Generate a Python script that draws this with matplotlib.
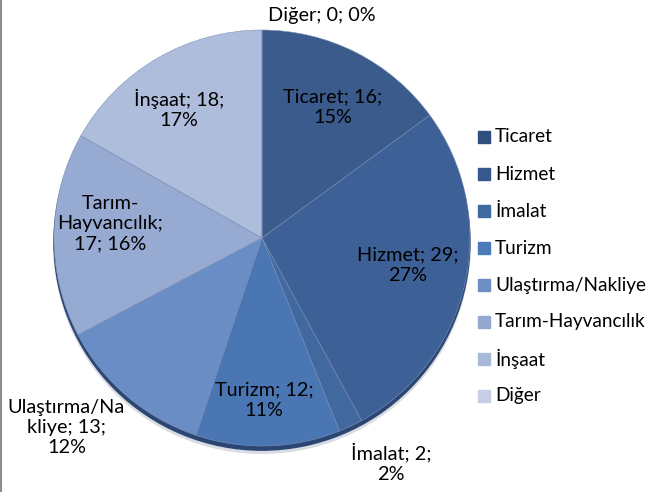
import matplotlib
matplotlib.use("Agg")
import matplotlib.pyplot as plt
from matplotlib.patches import Circle, Rectangle
from matplotlib.lines import Line2D


categories = ["Ticaret", "Hizmet", "İmalat", "Turizm", "Ulaştırma/Nakliye",
              "Tarım-Hayvancılık", "İnşaat", "Diğer"]
values = [16, 29, 2, 12, 13, 17, 18, 0]
percents = [15, 27, 2, 11, 12, 16, 17, 0]

# text of each data label, as Excel wrapped it
label_lines = [
    "Ticaret; 16;\n15%",
    "Hizmet; 29;\n27%",
    "İmalat; 2;\n2%",
    "Turizm; 12;\n11%",
    "Ulaştırma/Na\nkliye; 13;\n12%",
    "Tarım-\nHayvancılık;\n17; 16%",
    "İnşaat; 18;\n17%",
    "Diğer; 0; 0%",
]

slice_colors = ["#3B5B8C", "#3D6197", "#41699F", "#4A77B3",
                "#6B8DC6", "#97ABD2", "#AEBDDB", "#C6CFE5"]
legend_colors = ["#2F4F7F", "#36598C", "#3F6A9F", "#4A7ABA",
                 "#6D8FC6", "#93A7CF", "#A9B9DA", "#C6CFE5"]

# label centres in pie units (radius = 1)
label_pos = [(0.34, 0.63), (0.70, -0.13), (0.62, -1.08), (0.01, -0.78),
             (-0.94, -0.91), (-0.73, 0.07), (-0.40, 0.62), (0.29, 1.07)]

FONT = "Lato"
FS = 14.3
LEG_FS = 13.7
plt.rcParams["font.family"] = [FONT, "DejaVu Sans"]

fig = plt.figure(figsize=(6.51, 4.92), dpi=100)
ax = fig.add_axes([0.0829, 0.0935, 0.639, 0.8455])

# 3D-ish rim and soft shadow under the pie
ax.add_patch(Circle((0.0, -0.035), 1.0, color="#d9dce2", zorder=0, clip_on=False))
ax.add_patch(Circle((0.0, -0.02), 1.0, color="#2B4673", zorder=1, clip_on=False))

wedges, _ = ax.pie(values, colors=slice_colors, startangle=90, counterclock=False,
                   radius=1.0, normalize=True,
                   wedgeprops=dict(linewidth=0.4, edgecolor="#7f93b8"))
for w in wedges:
    w.set_zorder(2)
    w.set_clip_on(False)

ax.set_aspect("auto")
ax.set_xlim(-1, 1)
ax.set_ylim(-1, 1)
ax.axis("off")

for txt, (x, y) in zip(label_lines, label_pos):
    ax.text(x, y, txt, ha="center", va="center", fontsize=FS,
            color="black", linespacing=1.22, zorder=5, clip_on=False)

# legend drawn by hand to match Excel's layout
y0 = 492 - 137
step = 37
for i, (name, col) in enumerate(zip(categories, legend_colors)):
    yc = (y0 - i * step) / 492
    fig.patches.append(Rectangle((478 / 651, yc - 6 / 492), 12 / 651, 12 / 492,
                                 transform=fig.transFigure, color=col))
    fig.text(495 / 651, yc, name, ha="left", va="center", fontsize=LEG_FS)

# thin grey frame edge on the left
fig.lines.append(Line2D([0.0015, 0.0015], [0, 1], transform=fig.transFigure,
                        color="#8c8c8c", linewidth=1.5))

fig.savefig("out.png", dpi=100)
